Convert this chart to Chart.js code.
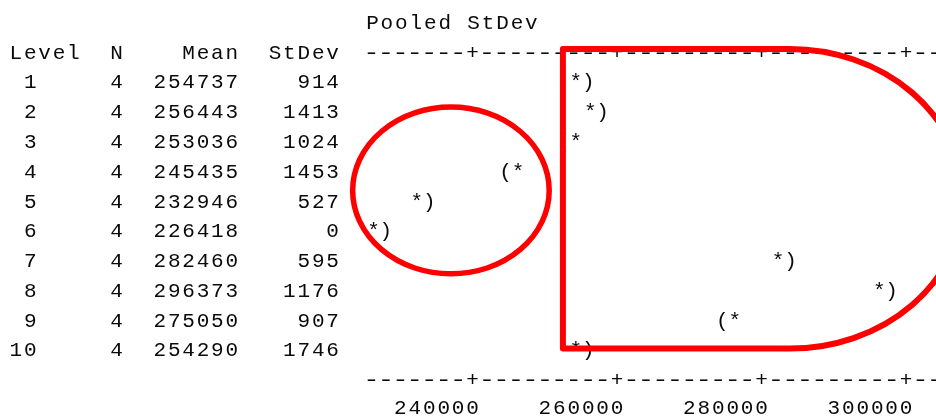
<!DOCTYPE html>
<html>
<head>
<meta charset="utf-8">
<script src="https://cdn.jsdelivr.net/npm/chart.js@4/dist/chart.umd.min.js"></script>
<style>
  html, body { margin: 0; padding: 0; background: #ffffff; }
  canvas { display: block; }
</style>
</head>
<body>
<canvas id="c" width="936" height="416"></canvas>
<script>
// One-way ANOVA: individual 95% CIs for each level mean, based on pooled StDev
const levels = [1, 2, 3, 4, 5, 6, 7, 8, 9, 10];
const counts = [4, 4, 4, 4, 4, 4, 4, 4, 4, 4];
const means  = [254737, 256443, 253036, 245435, 232946, 226418, 282460, 296373, 275050, 254290];
const stdevs = [914, 1413, 1024, 1453, 527, 0, 595, 1176, 907, 1746];
const tickValues = [240000, 260000, 280000, 300000];
const tickLabels = ['240000', '260000', '280000', '300000'];
const columnHeads = ['Level', 'N', 'Mean', 'StDev'];
const plotTitle = 'Pooled StDev';

// text-plot resolution: one character cell spans this many units (10 cells per tick step)
const CELL = 2000;
// Student t, 0.975 quantile, 30 degrees of freedom
const T_975_DF30 = 2.0423;

const dfTotal = counts.reduce((a, n) => a + n - 1, 0);
const pooledSd = Math.sqrt(stdevs.reduce((a, s, i) => a + (counts[i] - 1) * s * s, 0) / dfTotal);
const halfWidth = counts.map(n => T_975_DF30 * pooledSd / Math.sqrt(n));
const snap = v => Math.round(v / CELL) * CELL;

const FONT = '21px "Liberation Mono", "DejaVu Sans Mono", monospace';
const INK = '#0a0a0a';
const RED = '#ff0000';

// annotation outlines, in axis units (x: value, y: level row)
const circleNote = { x: 237000, y: 4.66, rx: 13600, ry: 2.8 };
const boxNote = { x0: 252500, xArc: 283900, y0: -0.09, y1: 9.97, rx: 24000 };

// typewriter-style glyph placement within a cell
const glyphShift = { '(': 4, '*': 2 };

function glyph(ctx, ch, cx, cy) {
  if (ch === ' ') return;
  const x = cx + (glyphShift[ch] || 0);
  if (ch === '-') {
    ctx.save();
    ctx.translate(x, cy + 7);
    ctx.scale(1.3, 1);
    ctx.fillText(ch, 0, 0);
    ctx.restore();
    return;
  }
  ctx.fillText(ch, x, cy + 7);
}

const textPlot = {
  id: 'textPlot',
  afterDatasetsDraw(chart) {
    const ctx = chart.ctx;
    const xs = chart.scales.x, ys = chart.scales.y;
    const px = v => xs.getPixelForValue(v);
    ctx.save();
    ctx.font = FONT;
    ctx.fillStyle = INK;
    ctx.textAlign = 'center';
    ctx.textBaseline = 'alphabetic';

    // left-hand table on its own character grid
    const tx0 = 8.6, tw = 14.4;
    const tableLine = (str, level) => {
      const y = ys.getPixelForValue(level);
      for (let c = 0; c < str.length; c++) glyph(ctx, str[c], tx0 + (c + 0.5) * tw, y);
    };
    tableLine(columnHeads[0] + '  ' + columnHeads[1] + columnHeads[2].padStart(8) + columnHeads[3].padStart(7), 0);
    levels.forEach((lv, i) => {
      tableLine(String(lv).padStart(2) + '     ' + String(counts[i]) + '  ' +
        String(means[i]).padStart(6) + '  ' + String(stdevs[i]).padStart(5), lv);
    });

    // plot title, starting seven cells left of the first tick
    const firstCell = tickValues[0] - 7 * CELL;
    const titleY = ys.getPixelForValue(-1);
    for (let c = 0; c < plotTitle.length; c++) glyph(ctx, plotTitle[c], px(firstCell + c * CELL) + 1, titleY);

    // dashed axis lines with + at each tick, top and bottom
    [0, levels.length + 1].forEach(row => {
      const y = ys.getPixelForValue(row);
      for (let v = firstCell; v <= xs.max; v += CELL) {
        glyph(ctx, tickValues.includes(v) ? '+' : '-', px(v), y);
      }
    });

    // tick labels: last digit sits in the tick's cell
    const labelY = ys.getPixelForValue(levels.length + 2) - 2;
    tickValues.forEach((t, k) => {
      const s = tickLabels[k];
      for (let c = 0; c < s.length; c++) glyph(ctx, s[c], px(t - (s.length - 1 - c) * CELL), labelY);
    });

    // interval marks: ( lower, * mean, ) upper
    const meta = chart.getDatasetMeta(0);
    meta.data.forEach((pt, i) => {
      const star = snap(means[i]);
      const lo = snap(means[i] - halfWidth[i]);
      const hi = snap(means[i] + halfWidth[i]);
      if (lo !== star) glyph(ctx, '(', px(lo), pt.y);
      if (hi !== star) glyph(ctx, ')', px(hi), pt.y);
      glyph(ctx, '*', pt.x, pt.y);
    });
    ctx.restore();
  }
};

const outlines = {
  id: 'outlines',
  afterDraw(chart) {
    const ctx = chart.ctx;
    const xs = chart.scales.x, ys = chart.scales.y;
    const px = v => xs.getPixelForValue(v);
    const py = v => ys.getPixelForValue(v);
    const unitX = Math.abs(px(1) - px(0));
    const unitY = Math.abs(py(1) - py(0));
    ctx.save();
    ctx.strokeStyle = RED;
    ctx.lineWidth = 5.5;
    ctx.lineJoin = 'round';

    ctx.beginPath();
    ctx.ellipse(px(circleNote.x), py(circleNote.y), circleNote.rx * unitX, circleNote.ry * unitY, 0, 0, Math.PI * 2);
    ctx.stroke();

    const left = px(boxNote.x0), top = py(boxNote.y0), bottom = py(boxNote.y1);
    const cx = px(boxNote.xArc), cy = (top + bottom) / 2;
    ctx.lineWidth = 6;
    ctx.beginPath();
    ctx.moveTo(left, bottom);
    ctx.lineTo(left, top);
    ctx.lineTo(cx, top);
    ctx.ellipse(cx, cy, boxNote.rx * unitX, (bottom - top) / 2, 0, -Math.PI / 2, Math.PI / 2);
    ctx.closePath();
    ctx.stroke();
    ctx.restore();
  }
};

new Chart(document.getElementById('c'), {
  type: 'scatter',
  data: {
    datasets: [{
      label: 'Mean',
      data: levels.map((lv, i) => ({ x: snap(means[i]), y: lv })),
      pointRadius: 0,
      showLine: false
    }]
  },
  options: {
    responsive: false,
    animation: false,
    devicePixelRatio: 1,
    events: [],
    layout: { padding: { left: 357, right: 1, top: 7, bottom: 1 } },
    plugins: { legend: { display: false }, tooltip: { enabled: false }, title: { display: false } },
    scales: {
      x: { type: 'linear', min: 224000, max: 304000, display: false },
      y: { type: 'linear', min: -1.5, max: 12.2, reverse: true, display: false }
    }
  },
  plugins: [textPlot, outlines]
});
</script>
</body>
</html>
